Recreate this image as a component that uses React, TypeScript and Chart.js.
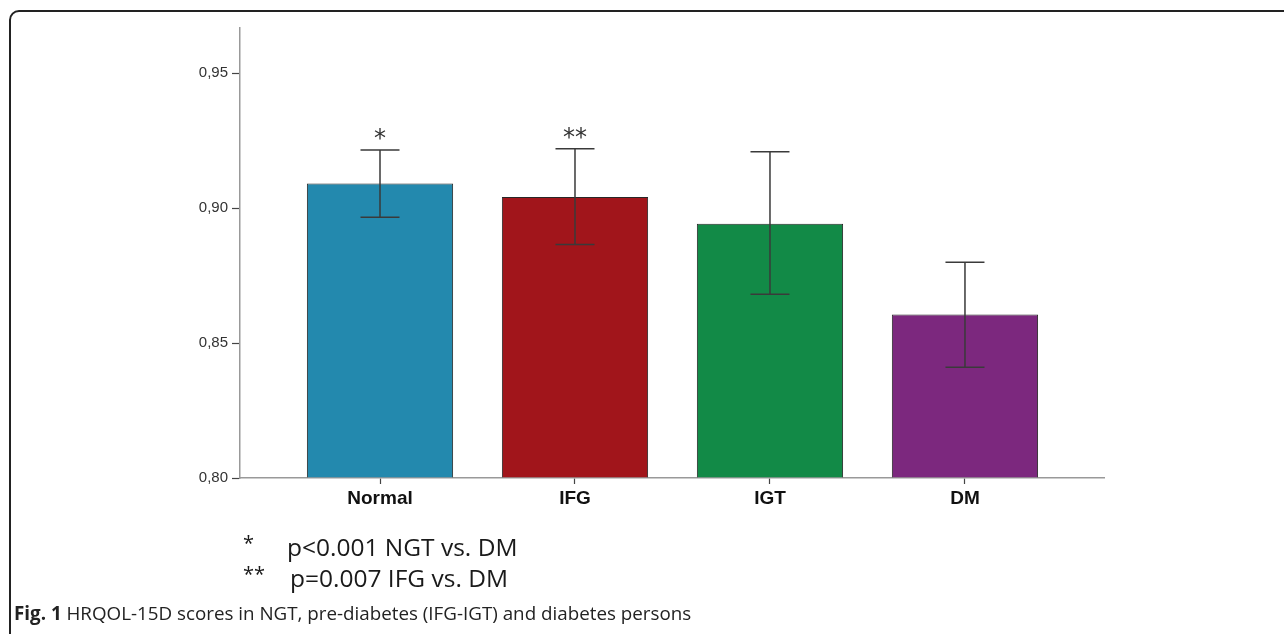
import React, { useEffect, useRef } from 'react';
import { Chart, registerables } from 'chart.js';

Chart.register(...registerables);

const categories = ['Normal', 'IFG', 'IGT', 'DM'];
const means = [0.9091, 0.9041, 0.8942, 0.8606];
const upperCI = [0.9215, 0.922, 0.9209, 0.8799];
const lowerCI = [0.8966, 0.8865, 0.8681, 0.841];
const significance = ['*', '**', '', ''];
const barColors = ['#2389ae', '#a1151b', '#128a47', '#7c287e'];
const yTickValues = [0.8, 0.85, 0.9, 0.95];
const yTickLabels = ['0,80', '0,85', '0,90', '0,95'];
const yMin = 0.8;
const yMax = 0.9667;
const xMin = -0.718;
const xMax = 3.713;
const footnoteMarks = ['*', '**'];
const footnoteTexts = ['p<0.001 NGT vs. DM', 'p=0.007 IFG vs. DM'];
const captionBold = 'Fig. 1';
const captionText = ' HRQOL-15D scores in NGT, pre-diabetes (IFG-IGT) and diabetes persons';

const errorBarPlugin = {
  id: 'errorBars',
  afterDatasetsDraw(chart: any) {
    const ctx = chart.ctx;
    const meta = chart.getDatasetMeta(0);
    const ys = chart.scales.y;
    ctx.save();
    meta.data.forEach((bar: any, i: number) => {
      const x = bar.x;
      const yHi = ys.getPixelForValue(upperCI[i]);
      const yLo = ys.getPixelForValue(lowerCI[i]);
      ctx.strokeStyle = '#3a3a3a';
      ctx.lineWidth = 1.5;
      ctx.beginPath();
      ctx.moveTo(x, yHi);
      ctx.lineTo(x, yLo);
      ctx.moveTo(x - 19.5, yHi);
      ctx.lineTo(x + 19.5, yHi);
      ctx.moveTo(x - 19.5, yLo);
      ctx.lineTo(x + 19.5, yLo);
      ctx.stroke();
      if (significance[i]) {
        ctx.fillStyle = '#333';
        ctx.font = '24px "DejaVu Sans"';
        ctx.textAlign = 'center';
        ctx.textBaseline = 'alphabetic';
        ctx.fillText(significance[i], x, yHi - 4);
      }
    });
    ctx.restore();
  },
};

export default function App() {
  const canvasRef = useRef<HTMLCanvasElement | null>(null);

  useEffect(() => {
    const canvas = canvasRef.current;
    if (!canvas) return;
    const chart = new Chart(canvas, {
      type: 'bar',
      data: {
        datasets: [
          {
            data: means.map((m, i) => ({ x: i, y: m })),
            base: yMin,
            backgroundColor: barColors,
            borderColor: 'rgba(15,15,15,0.9)',
            borderWidth: 1,
            categoryPercentage: 1,
            barPercentage: 0.75,
          } as any,
        ],
      },
      options: {
        responsive: false,
        animation: false,
        layout: { padding: { top: 28, right: 180, left: 0, bottom: 0 } },
        plugins: { legend: { display: false }, tooltip: { enabled: false } },
        scales: {
          x: {
            type: 'linear',
            min: xMin,
            max: xMax,
            offset: false,
            afterBuildTicks: (s: any) => {
              s.ticks = categories.map((_, i) => ({ value: i }));
            },
            afterFit: (s: any) => {
              s.height = 156;
            },
            ticks: {
              callback: (v: any) => categories[v] ?? '',
              font: { family: '"Liberation Sans", Arial, sans-serif', size: 19, weight: 'bold' },
              color: '#111',
              padding: 3,
              autoSkip: false,
              maxRotation: 0,
            },
            grid: { offset: false, drawOnChartArea: false, tickLength: 6, tickColor: '#444', tickWidth: 1.2 },
            border: { color: '#999', width: 1.5 },
          },
          y: {
            min: yMin,
            max: yMax,
            afterBuildTicks: (s: any) => {
              s.ticks = yTickValues.map((v) => ({ value: v }));
            },
            afterFit: (s: any) => {
              s.width = 240;
            },
            ticks: {
              callback: (v: any) => yTickLabels[yTickValues.indexOf(v)] ?? '',
              font: { family: '"Liberation Sans", Arial, sans-serif', size: 15 },
              color: '#333',
              padding: 4,
            },
            grid: { drawOnChartArea: false, tickLength: 8, tickColor: '#444', tickWidth: 1.2 },
            border: { color: '#999', width: 1.5 },
          },
        },
      } as any,
      plugins: [errorBarPlugin],
    });
    return () => chart.destroy();
  }, []);

  return (
    <div
      style={{
        position: 'absolute',
        left: 0,
        top: 0,
        width: 1284,
        height: 634,
        overflow: 'hidden',
        background: '#fff',
      }}
    >
      <div
        style={{
          position: 'absolute',
          left: 9,
          top: 10,
          width: 1400,
          height: 800,
          border: '2px solid #222',
          borderRadius: 10,
          boxSizing: 'border-box',
        }}
      />
      <canvas
        ref={canvasRef}
        width={1284}
        height={634}
        style={{ position: 'absolute', left: 0, top: 0, width: 1284, height: 634 }}
      />
      {footnoteTexts.map((t, i) => (
        <div
          key={i}
          style={{
            position: 'absolute',
            left: 0,
            top: 531 + i * 31,
            height: 31,
            lineHeight: '31px',
            fontFamily: '"Open Sans", sans-serif',
            fontSize: 24.5,
            color: '#1a1a1a',
            whiteSpace: 'nowrap',
          }}
        >
          <span style={{ position: 'absolute', left: 243, top: -4, fontSize: 20 }}>{footnoteMarks[i]}</span>
          <span style={{ position: 'absolute', left: 287 + i * 3 }}>{t}</span>
        </div>
      ))}
      <div
        style={{
          position: 'absolute',
          left: 14,
          top: 601,
          lineHeight: '24px',
          fontFamily: '"Open Sans", sans-serif',
          fontSize: 18.8,
          color: '#222',
          whiteSpace: 'nowrap',
        }}
      >
        <span style={{ fontWeight: 'bold' }}>{captionBold}</span>
        <span>{captionText}</span>
      </div>
    </div>
  );
}
